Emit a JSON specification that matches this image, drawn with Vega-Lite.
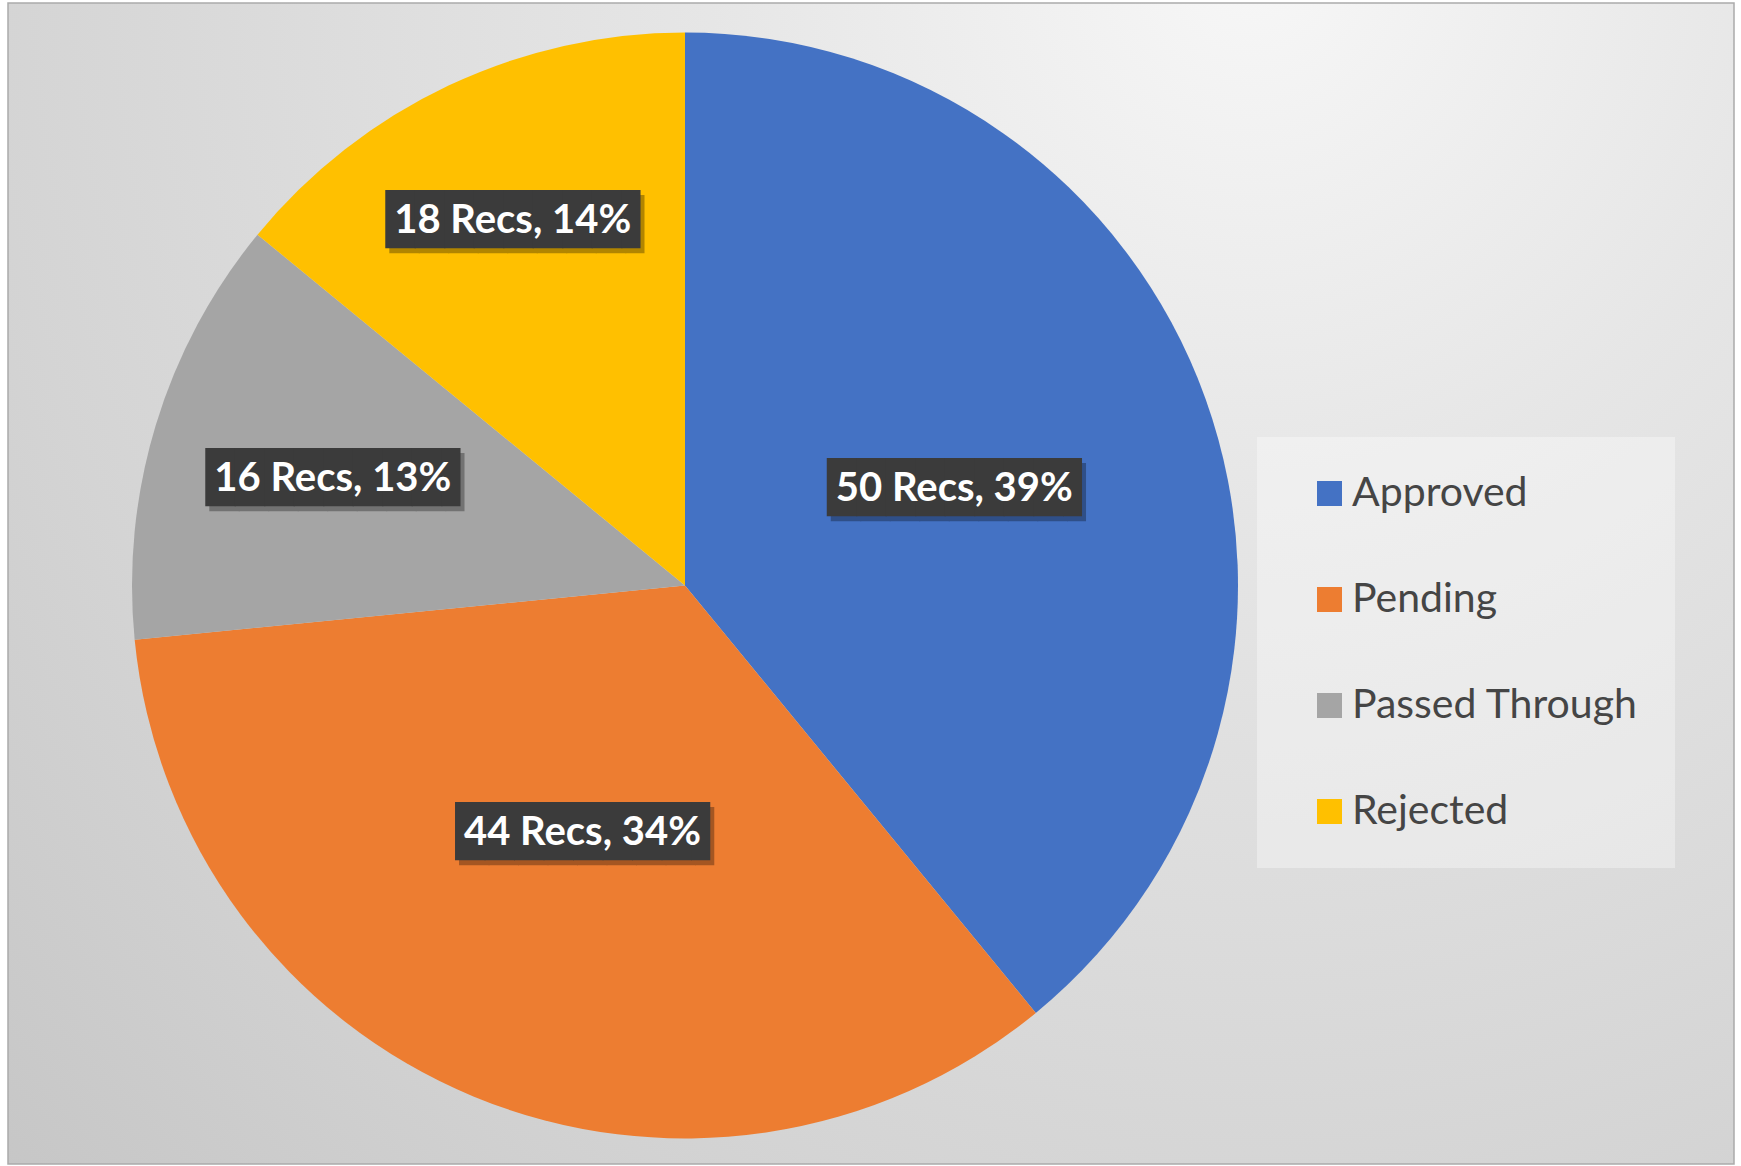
{
  "$schema": "https://vega.github.io/schema/vega-lite/v6.json",
  "width": 1726,
  "height": 1161,
  "autosize": {"type": "none"},
  "padding": {"left": 8, "top": 3, "right": 7, "bottom": 2},
  "background": "#ffffff",
  "view": {
    "stroke": "#ababab",
    "strokeWidth": 1.5,
    "fill": {
      "gradient": "radial",
      "x1": 0.72, "y1": 0.14, "r1": 0,
      "x2": 0.72, "y2": 0.14, "r2": 1.05,
      "stops": [
        {"offset": 0, "color": "#f7f7f7"},
        {"offset": 0.3, "color": "#e6e6e6"},
        {"offset": 0.7, "color": "#d4d4d4"},
        {"offset": 1, "color": "#c4c4c4"}
      ]
    }
  },
  "data": {
    "values": [
      {"Status": "Approved", "Recs": 50, "Label": "50 Recs, 39%"},
      {"Status": "Pending", "Recs": 44, "Label": "44 Recs, 34%"},
      {"Status": "Passed Through", "Recs": 16, "Label": "16 Recs, 13%"},
      {"Status": "Rejected", "Recs": 18, "Label": "18 Recs, 14%"}
    ]
  },
  "transform": [
    {"window": [{"op": "row_number", "as": "Rank"}]}
  ],
  "encoding": {
    "theta": {"field": "Recs", "type": "quantitative", "stack": true},
    "order": {"field": "Rank", "type": "quantitative"},
    "x": {"value": 677},
    "y": {"value": 582.5}
  },
  "layer": [
    {
      "mark": {"type": "arc", "outerRadius": 553},
      "encoding": {
        "color": {
          "field": "Status",
          "type": "nominal",
          "scale": {
            "domain": ["Approved", "Pending", "Passed Through", "Rejected"],
            "range": ["#4472C4", "#ED7D31", "#A5A5A5", "#FFC000"]
          },
          "legend": {
            "title": null,
            "orient": "none",
            "legendX": 1249,
            "legendY": 434,
            "symbolType": "square",
            "symbolSize": 625,
            "symbolStrokeWidth": 0,
            "labelFont": "Lato",
            "labelFontSize": 41,
            "labelColor": "#454545",
            "labelLimit": 500,
            "labelOffset": 2,
            "symbolOffset": 16,
            "rowPadding": 64,
            "padding": 36,
            "fillColor": "rgba(255,255,255,0.35)"
          }
        }
      }
    },
    {
      "mark": {
        "type": "text",
        "font": "DejaVu Sans Mono",
        "fontSize": 49,
        "align": "left",
        "baseline": "middle",
        "dx": -123,
        "dy": 5,
        "color": "#000000",
        "opacity": 0.3,
        "radius": {"expr": "datum.Status === 'Approved' ? 286 : datum.Status === 'Pending' ? 268 : datum.Status === 'Passed Through' ? 368 : 403"}
      },
      "encoding": {"text": {"value": "████████▋"}}
    },
    {
      "mark": {
        "type": "text",
        "font": "DejaVu Sans Mono",
        "fontSize": 49,
        "align": "left",
        "baseline": "middle",
        "dx": -127,
        "color": "#3b3b3b",
        "radius": {"expr": "datum.Status === 'Approved' ? 286 : datum.Status === 'Pending' ? 268 : datum.Status === 'Passed Through' ? 368 : 403"}
      },
      "encoding": {"text": {"value": "████████▋"}}
    },
    {
      "mark": {
        "type": "text",
        "font": "Lato",
        "fontSize": 40,
        "fontWeight": "bold",
        "align": "center",
        "baseline": "middle",
        "color": "#ffffff",
        "radius": {"expr": "datum.Status === 'Approved' ? 286 : datum.Status === 'Pending' ? 268 : datum.Status === 'Passed Through' ? 368 : 403"}
      },
      "encoding": {"text": {"field": "Label", "type": "nominal"}}
    }
  ]
}
